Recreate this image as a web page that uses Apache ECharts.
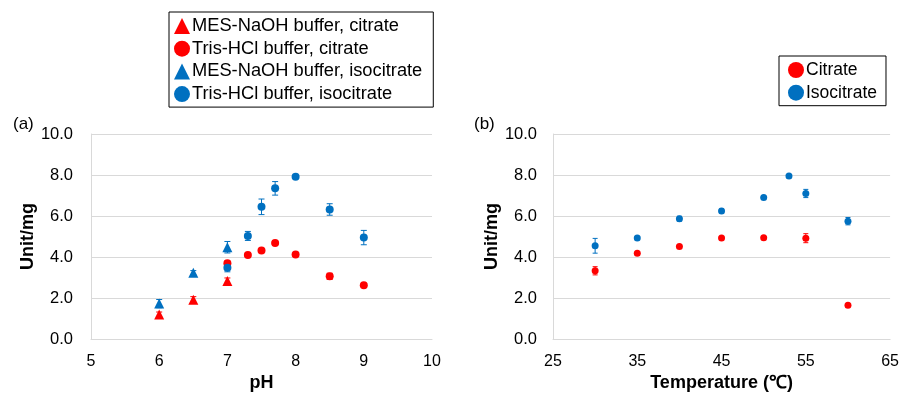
<!DOCTYPE html>
<html>
<head>
<meta charset="utf-8">
<script src="https://cdn.jsdelivr.net/npm/echarts@6/dist/echarts.min.js"></script>
<style>
html,body{margin:0;padding:0;background:#fff;}
#chart{width:902px;height:397px;}
</style>
</head>
<body>
<div id="chart"></div>
<script>
// ---- Data: panel (a) pH ----
const phMes = [6, 6.5, 7];
const phTris = [7, 7.3, 7.5, 7.7, 8, 8.5, 9];
const mesCitrate = [1.2, 1.92, 2.83];
const mesCitrateErr = [0.12, 0.15, 0.15];
const trisCitrate = [3.7, 4.1, 4.32, 4.68, 4.12, 3.06, 2.62];
const trisCitrateErr = [0.1, 0.05, 0.05, 0.05, 0.08, 0.15, 0.05];
const mesIso = [1.73, 3.24, 4.48];
const mesIsoErr = [0.2, 0.1, 0.28];
const trisIso = [3.48, 5.03, 6.45, 7.35, 7.92, 6.32, 4.95];
const trisIsoErr = [0.2, 0.22, 0.38, 0.33, 0.05, 0.28, 0.35];

// ---- Data: panel (b) temperature ----
const tempCitrate = [30, 35, 40, 45, 50, 55, 60];
const citrate = [3.33, 4.18, 4.52, 4.93, 4.94, 4.92, 1.65];
const citrateErr = [0.2, 0.05, 0.05, 0.05, 0.05, 0.22, 0.05];
const tempIso = [30, 35, 40, 45, 50, 53, 55, 60];
const isocitrate = [4.55, 4.93, 5.87, 6.25, 6.9, 7.95, 7.1, 5.75];
const isocitrateErr = [0.36, 0.08, 0.12, 0.1, 0.05, 0.05, 0.2, 0.18];

const yTicks = [0, 2, 4, 6, 8, 10];
const phTicks = [5, 6, 7, 8, 9, 10];
const tempTicks = [25, 35, 45, 55, 65];

const RED = '#FF0000';
const BLUE = '#0070C0';
const FONT = '"Liberation Sans", Arial, Helvetica, sans-serif';

function zip(xs, ys) { return xs.map((x, i) => [x, ys[i]]); }
function zipErr(xs, ys, es) { return xs.map((x, i) => [x, ys[i], es[i]]); }

function errSeries(idx, xs, ys, es, color, cap) {
  return {
    type: 'custom',
    xAxisIndex: idx, yAxisIndex: idx,
    silent: true,
    z: 1,
    data: zipErr(xs, ys, es),
    renderItem: function (params, api) {
      const x = api.value(0), y = api.value(1), e = api.value(2);
      const top = api.coord([x, y + e]);
      const bot = api.coord([x, y - e]);
      const st = { stroke: color, lineWidth: 1 };
      return {
        type: 'group',
        children: [
          { type: 'line', shape: { x1: top[0], y1: top[1], x2: bot[0], y2: bot[1] }, style: st },
          { type: 'line', shape: { x1: top[0] - cap, y1: top[1], x2: top[0] + cap, y2: top[1] }, style: st },
          { type: 'line', shape: { x1: bot[0] - cap, y1: bot[1], x2: bot[0] + cap, y2: bot[1] }, style: st }
        ]
      };
    }
  };
}

function yAxis(idx, margin, gap) {
  return {
    type: 'value', gridIndex: idx, min: yTicks[0], max: yTicks[yTicks.length - 1], interval: 2,
    name: 'Unit/mg', nameLocation: 'middle', nameGap: gap,
    nameTextStyle: { fontFamily: FONT, fontSize: 18, fontWeight: 'bold', color: '#000' },
    axisLine: { show: true, lineStyle: { color: '#D9D9D9', width: 1 } },
    axisTick: { show: false },
    axisLabel: { margin: margin, fontFamily: FONT, fontSize: 16.5, color: '#000', formatter: v => v.toFixed(1) },
    splitLine: { show: true, lineStyle: { color: '#D9D9D9', width: 1 } }
  };
}

function xAxis(idx, ticks, name) {
  return {
    type: 'value', gridIndex: idx, min: ticks[0], max: ticks[ticks.length - 1],
    interval: ticks[1] - ticks[0],
    name: name, nameLocation: 'middle', nameGap: 31,
    nameTextStyle: { fontFamily: FONT, fontSize: 18, fontWeight: 'bold', color: '#000' },
    axisLine: { show: true, onZero: false, lineStyle: { color: '#D9D9D9', width: 1 } },
    axisTick: { show: false },
    axisLabel: { margin: 14, fontFamily: FONT, fontSize: 16, color: '#000' },
    splitLine: { show: false }
  };
}

const chart = echarts.init(document.getElementById('chart'), null, { renderer: 'canvas' });
chart.setOption({
  animation: false,
  backgroundColor: '#fff',
  textStyle: { fontFamily: FONT },
  title: [
    { text: '(a)', left: 8, top: 111, textStyle: { fontFamily: FONT, fontSize: 17, fontWeight: 'normal', color: '#000' } },
    { text: '(b)', left: 469, top: 111, textStyle: { fontFamily: FONT, fontSize: 17, fontWeight: 'normal', color: '#000' } }
  ],
  legend: [
    {
      left: 169, top: 12, orient: 'vertical',
      padding: [5, 11, 4, 5],
      itemWidth: 16, itemHeight: 16, itemGap: 4.7,
      borderColor: '#000', borderWidth: 1,
      textStyle: { fontFamily: FONT, fontSize: 18.3, color: '#000', padding: [0, 0, 0, -3] },
      data: ['MES-NaOH buffer, citrate', 'Tris-HCl buffer, citrate', 'MES-NaOH buffer, isocitrate', 'Tris-HCl buffer, isocitrate']
    },
    {
      left: 779, top: 56, orient: 'vertical',
      padding: [5, 9, 4, 9],
      itemWidth: 16, itemHeight: 16, itemGap: 4.7,
      borderColor: '#000', borderWidth: 1,
      textStyle: { fontFamily: FONT, fontSize: 17.5, color: '#000', padding: [0, 0, 0, -3] },
      data: ['Citrate', 'Isocitrate']
    }
  ],
  grid: [
    { left: 91, width: 341, top: 134, height: 209 },
    { left: 553, width: 338, top: 134, height: 209 }
  ],
  xAxis: [xAxis(0, phTicks, 'pH'), xAxis(1, tempTicks, 'Temperature (\u2103)')],
  yAxis: [yAxis(0, 18, 41), yAxis(1, 16, 44)],
  series: [
    errSeries(0, phMes, mesCitrate, mesCitrateErr, RED, 3),
    errSeries(0, phTris, trisCitrate, trisCitrateErr, RED, 3),
    errSeries(0, phMes, mesIso, mesIsoErr, BLUE, 3),
    errSeries(0, phTris, trisIso, trisIsoErr, BLUE, 3),
    { name: 'MES-NaOH buffer, citrate', type: 'scatter', xAxisIndex: 0, yAxisIndex: 0, symbol: 'triangle', symbolSize: 10, itemStyle: { color: RED, opacity: 1 }, data: zip(phMes, mesCitrate), z: 2 },
    { name: 'Tris-HCl buffer, citrate', type: 'scatter', xAxisIndex: 0, yAxisIndex: 0, symbol: 'circle', symbolSize: 8, itemStyle: { color: RED, opacity: 1 }, data: zip(phTris, trisCitrate), z: 2 },
    { name: 'MES-NaOH buffer, isocitrate', type: 'scatter', xAxisIndex: 0, yAxisIndex: 0, symbol: 'triangle', symbolSize: 10, itemStyle: { color: BLUE, opacity: 1 }, data: zip(phMes, mesIso), z: 2 },
    { name: 'Tris-HCl buffer, isocitrate', type: 'scatter', xAxisIndex: 0, yAxisIndex: 0, symbol: 'circle', symbolSize: 8, itemStyle: { color: BLUE, opacity: 1 }, data: zip(phTris, trisIso), z: 2 },
    errSeries(1, tempCitrate, citrate, citrateErr, RED, 2.5),
    errSeries(1, tempIso, isocitrate, isocitrateErr, BLUE, 2.5),
    { name: 'Citrate', type: 'scatter', xAxisIndex: 1, yAxisIndex: 1, symbol: 'circle', symbolSize: 7, itemStyle: { color: RED, opacity: 1 }, data: zip(tempCitrate, citrate), z: 2 },
    { name: 'Isocitrate', type: 'scatter', xAxisIndex: 1, yAxisIndex: 1, symbol: 'circle', symbolSize: 7, itemStyle: { color: BLUE, opacity: 1 }, data: zip(tempIso, isocitrate), z: 2 }
  ]
});
</script>
</body>
</html>
